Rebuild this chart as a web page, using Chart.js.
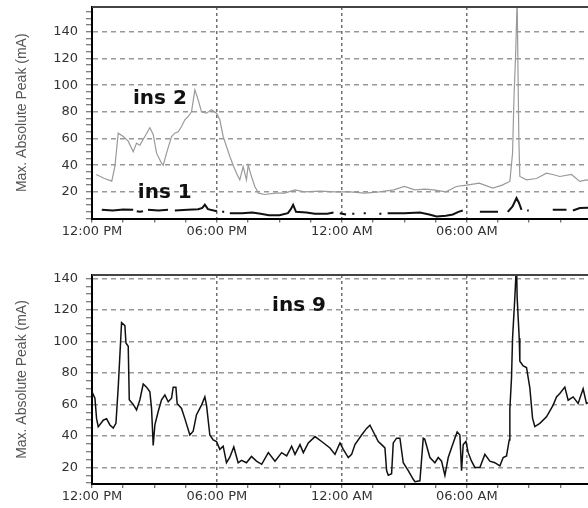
<!DOCTYPE html>
<html>
<head>
<meta charset="utf-8">
<script src="https://cdn.jsdelivr.net/npm/chart.js@4.4.1/dist/chart.umd.min.js"></script>
<style>
  html, body { margin: 0; padding: 0; background: #fff; }
  body { width: 588px; height: 508px; overflow: hidden; position: relative; }
  canvas { position: absolute; left: 0; }
  #top-chart { top: 0; }
  #bottom-chart { top: 250px; }
</style>
</head>
<body>
<canvas id="top-chart" width="600" height="250"></canvas>
<canvas id="bottom-chart" width="600" height="258"></canvas>
<script>
// hours since the start of the log
const hourTicks = [0, 1.5, 3, 4.5, 6, 7.5, 9, 10.5, 12, 13.5, 15, 16.5, 18, 19.5, 21, 22.5, 24];
const labelHours = [0, 6, 12, 18];
const labelTexts = ['12:00 PM', '06:00 PM', '12:00 AM', '06:00 AM'];

// ins 2 (grey trace, top panel)
const ins2Hours = [0.2, 0.6, 0.95, 1.1, 1.26, 1.5, 1.74, 1.98, 2.14, 2.3,
  2.54, 2.78, 2.94, 3.1, 3.34, 3.42, 3.58, 3.82, 3.98, 4.14,
  4.3, 4.46, 4.62, 4.78, 4.94, 5.1, 5.26, 5.5, 5.74, 5.98,
  6.14, 6.3, 6.46, 6.62, 6.78, 6.94, 7.1, 7.26, 7.42, 7.5,
  7.66, 7.82, 8.0, 8.3, 8.8, 9.26, 9.75, 10.2, 10.95, 11.67,
  12.4, 13.1, 13.8, 14.5, 15.0, 15.5, 16.0, 16.4, 17.0, 17.5,
  18.0, 18.6, 19.25, 19.7, 20.07, 20.2, 20.27, 20.35, 20.42, 20.5,
  20.55, 20.87, 21.35, 21.83, 22.13, 22.47, 23.03, 23.43, 23.75, 24.05, 24.4];
const ins2Values = [33, 30, 28, 39, 64, 61.5, 58, 50, 56.5, 55,
  61.5, 68, 63, 49, 41.5, 40, 49, 61.5, 64, 65,
  69, 74, 76.5, 80, 96.5, 89, 80, 79, 81.5, 79,
  74, 61.5, 54, 46.5, 40, 34, 29, 39, 29, 40,
  31.5, 24, 19, 18, 19, 19, 21.5, 20, 20.5, 20,
  20, 19, 20, 21.5, 24, 21.5, 22, 21.5, 20, 24,
  25, 26.5, 22.8, 25, 27.8, 49, 91.5, 124, 165, 61.5,
  31.5, 29, 30, 34, 33, 31.5, 33, 27.8, 29, 28, 28];

// ins 1 (black trace, top panel) - nulls are missing samples
const ins1Hours = [0.47, 1.0, 1.5, 1.98, 2.06,
  2.15, 2.3, 2.45, 2.57,
  2.69, 3.2, 3.65, 3.8,
  3.98, 4.6, 5.1, 5.3, 5.42, 5.57, 6.0, 6.15,
  6.25, 6.35, 6.5,
  6.62, 7.2, 7.7, 8.1, 8.5, 9.0, 9.41, 9.55, 9.66, 9.8, 10.3, 10.7, 11.3, 11.6, 11.75,
  11.9, 12.2, 12.35, 12.5, 12.6, 12.8, 13.05, 13.15, 13.4, 13.8, 13.9, 14.05,
  14.2, 15.0, 15.75, 16.2, 16.55, 17.0, 17.33, 17.6, 17.81, 18.2,
  18.63, 19.5, 19.7,
  19.97, 20.2, 20.39, 20.5, 20.63, 20.8,
  20.9, 20.98, 21.5,
  22.13, 22.79, 22.95,
  23.1, 23.43, 23.81, 24.3];
const ins1Values = [6.5, 6.0, 6.8, 6.5, null,
  5.5, 5.0, 5.5, null,
  6.5, 6.0, 6.5, null,
  6.0, 6.5, 7.0, 8.0, 10.3, 7.0, 5.5, null,
  5.0, 5.0, null,
  4.0, 4.0, 4.5, 3.5, 2.5, 2.5, 4.0, 7.0, 10.3, 5.0, 4.5, 3.5, 3.5, 4.5, null,
  4.0, 3.0, null, 3.5, 3.5, null, 4.0, 4.0, null, 3.5, 3.5, null,
  4.0, 4.0, 4.5, 3.0, 1.5, 2.0, 3.0, 5.0, 6.0, null,
  5.0, 5.0, null,
  5.0, 9.0, 15.3, 12.0, 6.5, null,
  6.0, 6.0, null,
  6.5, 6.5, null,
  6.0, 7.8, 8.0, 8.0];

// ins 9 (bottom panel)
const ins9Hours = [0, 0.14, 0.22, 0.3, 0.54, 0.7, 0.86, 1.02, 1.15, 1.26,
  1.37, 1.42, 1.58, 1.63, 1.74, 1.79, 1.98, 2.14, 2.3, 2.46,
  2.62, 2.78, 2.86, 2.94, 3.02, 3.18, 3.34, 3.5, 3.66, 3.82,
  3.9, 4.03, 4.09, 4.3, 4.46, 4.7, 4.86, 5.02, 5.26, 5.42,
  5.5, 5.66, 5.82, 5.98, 6.14, 6.3, 6.46, 6.62, 6.81, 7.02,
  7.18, 7.42, 7.66, 7.9, 8.15, 8.47, 8.79, 9.11, 9.35, 9.59,
  9.75, 9.99, 10.15, 10.39, 10.71, 11.03, 11.43, 11.67, 11.91, 12.07,
  12.31, 12.47, 12.63, 12.95, 13.19, 13.35, 13.59, 13.75, 13.91, 14.07,
  14.15, 14.23, 14.39, 14.47, 14.63, 14.79, 14.95, 15.19, 15.43, 15.51,
  15.75, 15.91, 15.98, 16.23, 16.47, 16.63, 16.79, 16.95, 17.11, 17.27,
  17.43, 17.54, 17.67, 17.75, 17.83, 17.96, 18.07, 18.23, 18.39, 18.63,
  18.87, 19.11, 19.35, 19.59, 19.75, 19.91, 20.04, 20.07, 20.15, 20.2,
  20.31, 20.39, 20.42, 20.52, 20.55, 20.71, 20.87, 21.03, 21.16, 21.27,
  21.51, 21.83, 22.15, 22.31, 22.47, 22.71, 22.87, 23.11, 23.35, 23.59,
  23.75, 24.0, 24.4];
const ins9Values = [68, 64, 51, 45.8, 50, 51, 47, 45, 48, 71,
  99, 112, 110, 99, 97, 63, 60, 56.5, 63, 73,
  71, 68, 57.5, 34, 47, 55.5, 63, 66, 61.7, 64,
  71, 71, 60.6, 57.5, 51, 40.6, 43, 53.5, 59.6, 64.8,
  59.6, 40.6, 37.5, 36.5, 31.5, 33.5, 23, 26.5, 33, 23,
  24.5, 23, 27, 24, 22, 29.4, 24, 29.4, 27.3, 33.5,
  28.3, 34.5, 29.4, 35.6, 39.6, 36.5, 32.4, 28.3, 35.6, 31.5,
  26.3, 28.3, 34.5, 40.6, 44.8, 46.8, 40.6, 36.5, 34.5, 32.4,
  18, 15, 16, 35.6, 38.6, 38.6, 23, 18, 12.5, 11,
  11.5, 38.5, 38, 26.3, 23, 26.3, 24, 15, 26.3, 32.5,
  38.5, 42.6, 40.6, 18, 34.5, 36.5, 29.4, 24, 20, 20,
  28.3, 24, 23, 21, 26.3, 27.3, 37.5, 57, 77, 102,
  128, 150, 128, 102, 87.5, 84.5, 83.5, 70.5, 51.3, 46,
  48, 52.2, 59.6, 64.8, 67, 71, 62.7, 64.8, 60.6, 70,
  60.6, 62, 60];

function toPoints(hours, values) {
  return hours.map((h, i) => ({ x: h, y: values[i] }));
}

// top edge of the frame plus the bold series tags
const frameTags = {
  id: 'frameTags',
  afterDatasetsDraw(chart, args, opts) {
    const { ctx, chartArea, scales } = chart;
    ctx.save();
    ctx.strokeStyle = '#444';
    ctx.lineWidth = 2;
    ctx.beginPath();
    ctx.moveTo(chartArea.left, chartArea.top);
    ctx.lineTo(chartArea.right, chartArea.top);
    ctx.stroke();
    ctx.font = 'bold 20px "DejaVu Sans"';
    ctx.fillStyle = '#111';
    ctx.textBaseline = 'middle';
    (opts.tags || []).forEach(t => {
      ctx.fillText(t.text, scales.x.getPixelForValue(t.h), scales.y.getPixelForValue(t.v));
    });
    ctx.restore();
  }
};

function makeOptions(yMin, yMax, padTop, xHeight, tags) {
  return {
    responsive: false,
    animation: false,
    layout: { padding: { top: padTop, left: 0, right: 0, bottom: 0 } },
    plugins: {
      legend: { display: false },
      tooltip: { enabled: false },
      frameTags: { tags: tags }
    },
    elements: { point: { radius: 0 }, line: { tension: 0 } },
    scales: {
      x: {
        type: 'linear',
        min: 0,
        max: 24.4,
        afterBuildTicks: s => { s.ticks = hourTicks.map(v => ({ value: v })); },
        afterFit: s => {
          s.height = xHeight;
          s.paddingLeft = 0;
          s.paddingRight = 0;
        },
        ticks: {
          autoSkip: false,
          maxRotation: 0,
          padding: 1,
          color: '#333',
          font: { family: 'DejaVu Sans', size: 13 },
          callback: v => {
            const i = labelHours.indexOf(v);
            return i >= 0 ? labelTexts[i] : '';
          }
        },
        grid: {
          color: c => (c.tick && c.tick.value % 6 === 0 && c.tick.value > 0) ? '#707070' : 'rgba(0,0,0,0)',
          lineWidth: 1.5,
          tickLength: 4,
          tickColor: '#444',
          tickWidth: 1
        },
        border: { color: '#000', width: 2, dash: [3, 3] }
      },
      y: {
        min: yMin,
        max: yMax,
        afterBuildTicks: s => {
          const t = [];
          for (let v = Math.ceil(s.min / 5) * 5; v <= s.max; v += 5) t.push({ value: v });
          s.ticks = t;
        },
        afterFit: s => {
          s.width = 92;
          s.paddingTop = 0;
          s.paddingBottom = 0;
        },
        ticks: {
          autoSkip: false,
          padding: 8,
          color: '#333',
          font: { family: 'DejaVu Sans', size: 13 },
          callback: v => (v % 20 === 0 && v > 0) ? v : ''
        },
        grid: {
          color: c => (c.tick && c.tick.value % 20 === 0 && c.tick.value > 0) ? '#999' : 'rgba(0,0,0,0)',
          lineWidth: 1.5,
          tickLength: 6,
          tickColor: '#555',
          tickWidth: 1
        },
        border: { color: '#000', width: 2, dash: [5, 4] },
        title: {
          display: true,
          text: 'Max. Absolute Peak (mA)',
          color: '#555',
          font: { family: 'Liberation Sans', size: 14 },
          padding: { top: 14, bottom: 0 }
        }
      }
    }
  };
}

new Chart(document.getElementById('top-chart'), {
  type: 'line',
  data: {
    datasets: [
      {
        label: 'ins 2',
        data: toPoints(ins2Hours, ins2Values),
        borderColor: '#9a9a9a',
        borderWidth: 1.2
      },
      {
        label: 'ins 1',
        data: toPoints(ins1Hours, ins1Values),
        borderColor: '#111',
        borderWidth: 2,
        spanGaps: false
      }
    ]
  },
  options: makeOptions(0, 158.6, 7, 31.5, [
    { text: 'ins 2', h: 1.97, v: 89.6 },
    { text: 'ins 1', h: 2.2, v: 19.1 }
  ]),
  plugins: [frameTags]
});

new Chart(document.getElementById('bottom-chart'), {
  type: 'line',
  data: {
    datasets: [
      {
        label: 'ins 9',
        data: toPoints(ins9Hours, ins9Values),
        borderColor: '#111',
        borderWidth: 1.5
      }
    ]
  },
  options: makeOptions(9.5, 142.2, 25, 24, [
    { text: 'ins 9', h: 8.65, v: 122.7 }
  ]),
  plugins: [frameTags]
});
</script>
</body>
</html>
